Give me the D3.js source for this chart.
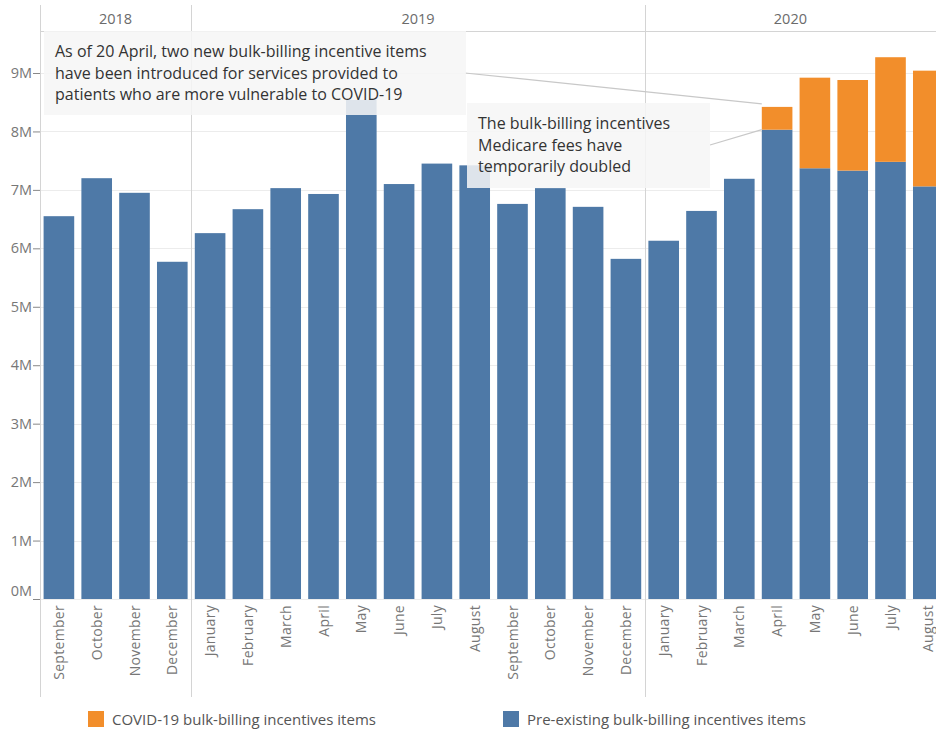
<!DOCTYPE html>
<html>
<head>
<meta charset="utf-8">
<script src="https://cdn.jsdelivr.net/npm/d3@7"></script>
<style>
  html, body { margin: 0; padding: 0; background: #fff; overflow: hidden; }
  svg { display: block; font-family: "Open Sans", "Noto Sans", sans-serif; }
</style>
</head>
<body>
<svg id="chart" width="936" height="733"></svg>
<script>
// Monthly bulk-billing incentive items, Sep 2018 – Aug 2020
const months = ["September","October","November","December",
  "January","February","March","April","May","June","July","August",
  "September","October","November","December",
  "January","February","March","April","May","June","July","August"];
const years = ["2018","2018","2018","2018",
  "2019","2019","2019","2019","2019","2019","2019","2019",
  "2019","2019","2019","2019",
  "2020","2020","2020","2020","2020","2020","2020","2020"];
// Pre-existing bulk-billing incentive items (millions)
const preExisting = [6.55, 7.20, 6.95, 5.77,
  6.26, 6.67, 7.03, 6.93, 8.54, 7.10, 7.45, 7.42,
  6.76, 7.03, 6.71, 5.82,
  6.13, 6.64, 7.19, 8.03, 7.37, 7.33, 7.48, 7.06];
// COVID-19 bulk-billing incentive items (millions)
const covid = [0, 0, 0, 0,
  0, 0, 0, 0, 0, 0, 0, 0,
  0, 0, 0, 0,
  0, 0, 0, 0.39, 1.55, 1.55, 1.79, 1.98];
const yTicks = [0, 1, 2, 3, 4, 5, 6, 7, 8, 9];
const seriesNames = ["COVID-19 bulk-billing incentives items", "Pre-existing bulk-billing incentives items"];
const colors = { covid: "#f28e2b", pre: "#4e79a7" };

const svg = d3.select("#chart");
const keys = months.map((m, i) => i);

const x = d3.scaleBand().domain(keys).range([40, 947.2]).paddingInner(0.19).paddingOuter(0.095);
const y = d3.scaleLinear().domain([0, 9]).range([599, 73]);

const gridColor = "#ececec";
const divColor = "#d4d4d4";

// Horizontal gridlines
svg.append("g").selectAll("line").data(yTicks).join("line")
  .attr("x1", 40).attr("x2", 936)
  .attr("y1", d => Math.round(y(d)) + 0.5).attr("y2", d => Math.round(y(d)) + 0.5)
  .attr("stroke", gridColor).attr("stroke-width", 1);

// Year header separator
svg.append("line").attr("x1", 40).attr("x2", 936).attr("y1", 31.5).attr("y2", 31.5)
  .attr("stroke", divColor);

// Year groups
const yearGroups = d3.groups(keys, i => years[i]);
const yearBounds = yearGroups.map(([yr, idx]) => ({
  yr,
  x0: x(idx[0]) - x.step() * x.paddingInner() / 2,
  x1: x(idx[idx.length - 1]) + x.bandwidth() + x.step() * x.paddingInner() / 2
}));

// Vertical dividers: axis and year boundaries
const divXs = [40].concat(yearBounds.slice(1).map(b => b.x0));
svg.append("g").selectAll("line").data(divXs).join("line")
  .attr("x1", d => Math.round(d) + 0.5).attr("x2", d => Math.round(d) + 0.5)
  .attr("y1", 5).attr("y2", 697)
  .attr("stroke", divColor);

svg.append("g").selectAll("text").data(yearBounds).join("text")
  .attr("x", d => (d.x0 + Math.min(d.x1, 936)) / 2)
  .attr("y", 24)
  .attr("text-anchor", "middle")
  .attr("fill", "#6b6b6b").attr("font-size", 14.5)
  .text(d => d.yr);

// Bars: pre-existing (bottom) and COVID-19 (stacked on top)
const bars = svg.append("g");
bars.selectAll("rect.pre").data(keys).join("rect").attr("class", "pre")
  .attr("x", i => x(i)).attr("width", x.bandwidth())
  .attr("y", i => y(preExisting[i])).attr("height", i => y(0) - y(preExisting[i]))
  .attr("fill", colors.pre);
bars.selectAll("rect.cov").data(keys.filter(i => covid[i] > 0)).join("rect").attr("class", "cov")
  .attr("x", i => x(i)).attr("width", x.bandwidth())
  .attr("y", i => y(preExisting[i] + covid[i])).attr("height", i => y(preExisting[i]) - y(preExisting[i] + covid[i]))
  .attr("fill", colors.covid);

// Y axis
const yAxis = svg.append("g").attr("transform", "translate(40,0)")
  .call(d3.axisLeft(y).tickValues(yTicks).tickFormat(d => d + "M").tickSize(7).tickPadding(1));
yAxis.select(".domain").remove();
yAxis.selectAll(".tick line").attr("stroke", "#888");
yAxis.selectAll(".tick text").attr("fill", "#777").attr("font-size", 14.5)
  .attr("font-family", "\"Open Sans\", sans-serif");
// bottom label sits just above the baseline
yAxis.selectAll(".tick text").filter(d => d === 0).attr("dy", "-0.25em");

// X labels (rotated)
svg.append("g").selectAll("text").data(keys).join("text")
  .attr("transform", i => `translate(${x(i) + x.bandwidth() / 2 + 5},605) rotate(-90)`)
  .attr("text-anchor", "end")
  .attr("fill", "#777").attr("font-size", 14)
  .attr("letter-spacing", 0.3)
  .text(i => months[i]);

// Annotations
const iApr = 19;
const ann = svg.append("g");
ann.append("line")
  .attr("x1", 465).attr("y1", 73)
  .attr("x2", x(iApr)).attr("y2", y(preExisting[iApr] + covid[iApr]) - 3)
  .attr("stroke", "#c8c8c8").attr("stroke-width", 1.2);
ann.append("line")
  .attr("x1", 710).attr("y1", 145)
  .attr("x2", x(iApr)).attr("y2", y(preExisting[iApr]))
  .attr("stroke", "#c8c8c8").attr("stroke-width", 1.2);

function note(x0, y0, w, h, lines, lh) {
  ann.append("rect").attr("x", x0).attr("y", y0).attr("width", w).attr("height", h)
    .attr("fill", "#f6f6f6").attr("fill-opacity", 0.86);
  ann.append("g").selectAll("text").data(lines).join("text")
    .attr("x", x0 + 11).attr("y", (d, k) => y0 + 26 + k * lh)
    .attr("fill", "#333").attr("font-size", 16)
    .text(d => d);
}
note(44, 31, 422, 84, [
  "As of 20 April, two new bulk-billing incentive items",
  "have been introduced for services provided to",
  "patients who are more vulnerable to COVID-19"], 21.5);
note(467, 103, 243, 85, [
  "The bulk-billing incentives",
  "Medicare fees have",
  "temporarily doubled"], 21.5);

// Legend
const legend = svg.append("g");
const legItems = [
  { name: seriesNames[0], color: colors.covid, x: 88 },
  { name: seriesNames[1], color: colors.pre, x: 503 }];
legend.selectAll("rect").data(legItems).join("rect")
  .attr("x", d => d.x).attr("y", 711).attr("width", 16).attr("height", 16)
  .attr("fill", d => d.color);
legend.selectAll("text").data(legItems).join("text")
  .attr("x", d => d.x + 24).attr("y", 725)
  .attr("fill", "#555").attr("font-size", 15)
  .text(d => d.name);
</script>
</body>
</html>
